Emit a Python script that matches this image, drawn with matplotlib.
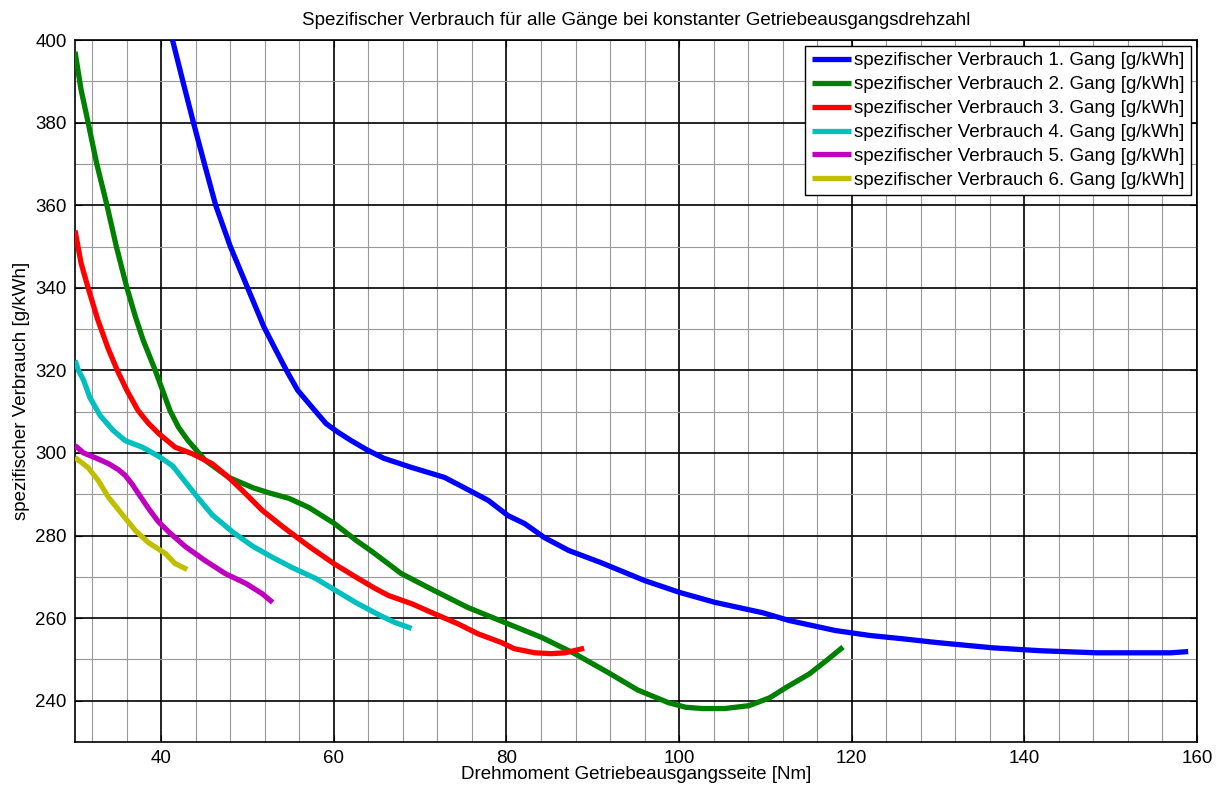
import matplotlib.pyplot as plt
from matplotlib.ticker import MultipleLocator

plt.rcParams["font.family"] = ["Liberation Sans", "DejaVu Sans"]

# spezifischer Verbrauch [g/kWh] ueber Drehmoment [Nm], je Gang
gang1_x = [41.3, 42.5, 43.7, 45.0, 46.3, 48.0, 50.0, 51.9, 53.3, 54.5, 55.8, 57.5,
           59.1, 60.5, 62.0, 63.8, 65.8, 69.0, 72.8, 75.1, 77.9, 80.2, 82.1, 84.4,
           87.2, 91.0, 96.0, 100.1, 104.2, 109.7, 112.8, 118.1, 122.1, 125.9,
           129.8, 136.4, 141.9, 148.4, 157.0, 159.0]
gang1_y = [400.0, 390.0, 380.2, 370.0, 360.0, 350.0, 340.0, 330.5, 324.8, 320.0,
           315.2, 311.0, 307.1, 305.0, 303.0, 300.8, 298.7, 296.5, 294.1, 291.6,
           288.5, 284.8, 282.9, 279.5, 276.4, 273.4, 269.1, 266.2, 263.8, 261.3,
           259.4, 257.0, 255.8, 255.0, 254.1, 252.8, 252.1, 251.6, 251.6, 251.9]

gang2_x = [30.0, 30.7, 31.5, 32.5, 33.7, 34.8, 36.0, 37.0, 37.9, 39.3, 41.0, 42.0,
           43.1, 45.1, 47.8, 50.6, 52.4, 54.8, 57.1, 60.0, 62.6, 64.5, 67.8, 71.6,
           75.5, 80.2, 84.1, 87.9, 91.8, 95.2, 98.8, 100.8, 102.7, 105.3, 108.1,
           110.5, 112.4, 115.1, 117.0, 119.0]
gang2_y = [397.2, 388.0, 380.2, 370.2, 360.0, 349.9, 340.1, 333.0, 327.3, 320.0,
           310.3, 306.2, 303.0, 298.2, 294.1, 291.6, 290.4, 289.0, 286.8, 283.0,
           278.8, 276.0, 270.8, 266.7, 262.6, 258.6, 255.3, 251.4, 246.8, 242.6,
           239.5, 238.4, 238.1, 238.1, 238.8, 240.7, 243.2, 246.5, 249.6, 253.0]

gang3_x = [30.0, 30.7, 31.5, 32.6, 33.8, 34.9, 36.0, 37.3, 38.5, 39.7, 41.6, 43.6,
           45.9, 47.8, 49.4, 51.7, 54.1, 57.1, 60.0, 62.5, 64.6, 66.3, 69.0, 71.6,
           74.4, 76.7, 79.4, 80.9, 83.3, 85.2, 86.8, 89.0]
gang3_y = [353.9, 346.0, 340.1, 332.5, 325.5, 320.0, 315.2, 310.3, 307.2, 304.7,
           301.4, 299.8, 297.4, 294.1, 290.9, 286.1, 282.1, 277.4, 273.2, 270.0,
           267.4, 265.5, 263.5, 261.1, 258.6, 256.2, 254.1, 252.6, 251.6, 251.4,
           251.6, 252.7]

gang4_x = [30.0, 30.4, 31.0, 31.7, 32.9, 34.4, 35.8, 37.8, 39.7, 41.3, 42.4, 44.3,
           45.9, 48.3, 50.6, 52.9, 55.2, 57.9, 60.2, 62.6, 65.2, 67.0, 69.0]
gang4_y = [322.4, 320.0, 317.6, 313.5, 309.1, 305.5, 303.0, 301.4, 299.2, 296.9,
           294.0, 289.0, 285.0, 280.8, 277.4, 274.7, 272.2, 269.6, 266.7, 263.7,
           260.8, 259.0, 257.5]

gang5_x = [30.0, 31.0, 32.3, 33.9, 35.0, 35.8, 36.6, 37.4, 38.5, 39.6, 40.8, 42.8,
           45.1, 47.4, 49.8, 51.7, 52.9]
gang5_y = [301.8, 300.0, 298.9, 297.4, 296.0, 294.6, 292.5, 290.0, 286.6, 283.5,
           281.0, 277.3, 273.9, 270.8, 268.4, 265.9, 263.8]

gang6_x = [30.0, 31.5, 32.7, 33.9, 35.4, 37.0, 38.5, 40.5, 41.6, 43.0]
gang6_y = [298.9, 296.5, 293.3, 289.2, 285.3, 281.2, 278.3, 275.6, 273.2, 271.8]

farben = ["#0000ff", "#008000", "#ff0000", "#00bfbf", "#bf00bf", "#bfbf00"]
kurven = [(gang1_x, gang1_y), (gang2_x, gang2_y), (gang3_x, gang3_y),
          (gang4_x, gang4_y), (gang5_x, gang5_y), (gang6_x, gang6_y)]

fig = plt.figure(figsize=(12.2, 7.87), dpi=100)
ax = fig.add_axes([0.0615, 0.0572, 0.9195, 0.8918])

for i, ((x, y), c) in enumerate(zip(kurven, farben)):
    ax.plot(x, y, color=c, lw=3.8, solid_capstyle="butt", solid_joinstyle="round",
            label=f"spezifischer Verbrauch {i + 1}. Gang [g/kWh]", zorder=3)

ax.set_xlim(30, 160)
ax.set_ylim(230, 400)
ax.xaxis.set_major_locator(MultipleLocator(20))
ax.xaxis.set_minor_locator(MultipleLocator(4))
ax.yaxis.set_major_locator(MultipleLocator(20))
ax.yaxis.set_minor_locator(MultipleLocator(10))

ax.grid(which="minor", color="0.6", lw=0.8, zorder=1)
ax.grid(which="major", color="black", lw=1.2, zorder=2)
ax.tick_params(which="both", direction="in", top=True, right=True, labelsize=13.5)
ax.tick_params(which="major", length=5, pad=6)
ax.tick_params(which="minor", length=0)
for s in ax.spines.values():
    s.set_linewidth(1.2)

ax.set_title("Spezifischer Verbrauch für alle Gänge bei konstanter Getriebeausgangsdrehzahl",
             fontsize=13.5, pad=11)
ax.set_xlabel("Drehmoment Getriebeausgangsseite [Nm]", fontsize=13.5, labelpad=-1)
ax.set_ylabel("spezifischer Verbrauch [g/kWh]", fontsize=13.5, labelpad=4)

leg = ax.legend(loc="upper right", fontsize=13.5, handlelength=2.1, handletextpad=0.16,
                labelspacing=0.36, borderaxespad=0.3, fancybox=False, framealpha=1,
                edgecolor="black", borderpad=0.35)
leg.get_frame().set_linewidth(1.0)

fig.savefig("out.png", dpi=100)
